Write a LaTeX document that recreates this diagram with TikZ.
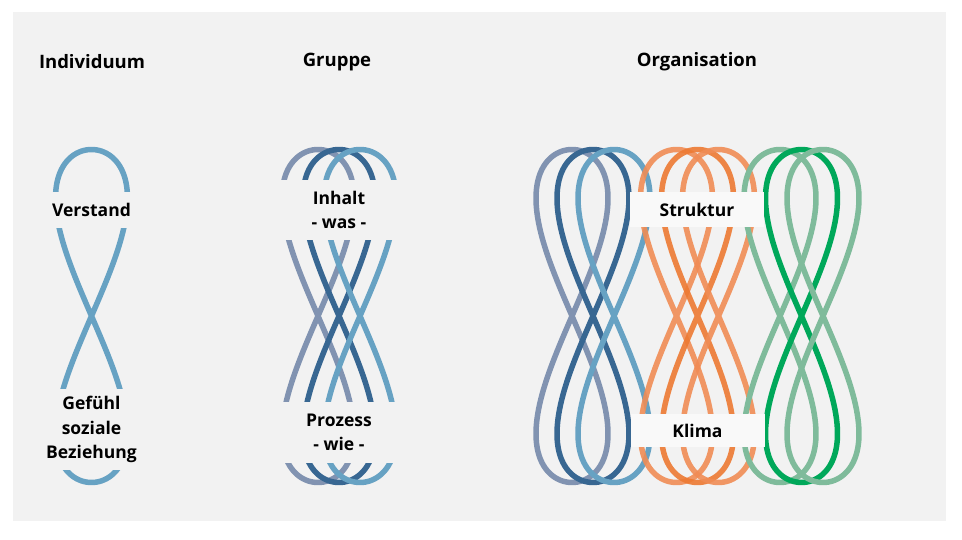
\documentclass[tikz,border=0pt]{standalone}
\usepackage{fontspec}
\setmainfont{Open Sans}
\usetikzlibrary{positioning}
\definecolor{panelgrey}{HTML}{F2F2F2}
\definecolor{tagwhite}{HTML}{F9F9F9}
\definecolor{slateblue}{HTML}{8193B1}
\definecolor{deepblue}{HTML}{386792}
\definecolor{skyblue}{HTML}{67A2C3}
\definecolor{orangelt}{HTML}{F08C55}
\definecolor{orangedk}{HTML}{ED7A33}
\definecolor{greenlt}{HTML}{7FBB9B}
\definecolor{greendk}{HTML}{00A85A}
\tikzset{
  strand/.style  = {line width=5.5pt, line join=round},
  heading/.style = {font=\bfseries\fontsize{18.5}{22}\selectfont, inner sep=0pt},
  lbl/.style     = {font=\bfseries\fontsize{17.5}{24.5}\selectfont, align=center, inner sep=0pt},
  gap/.style     = {lbl, fill=panelgrey, minimum width=140pt},
  tag/.style     = {lbl, fill=tagwhite, minimum width=134pt},
}
% one vertical figure eight (lemniscate of Gerono) around x = #1
\newcommand{\eightloop}[2]{%
  \draw[strand, #2] plot[domain=0:360, samples=181]
    ({#1 + 72*sin(\x)*cos(\x)}, {316 - 166.5*cos(\x)});}

\begin{document}
\begin{tikzpicture}[x=1pt, y=-1pt]
  \useasboundingbox (0,0) rectangle (962,540);
  \fill[panelgrey] (13,12) rectangle (946,521);
  % headings
  \node[heading] (individuum)   at (92,62)  {Individuum};
  \node[heading] (gruppe)       at (337,62) {Gruppe};
  \node[heading] (organisation) at (697,62) {Organisation};
  % individuum
  \eightloop{91.5}{skyblue}
  \node[gap, minimum width=100pt, minimum height=36pt] (verstand) at (91.5,210) {Verstand};
  \node[gap, minimum width=100pt, minimum height=81pt] (gefuehl) at (91.5,429.5) {Gef\"uhl\\soziale\\Beziehung};
  % gruppe
  \eightloop{318}{slateblue}
  \eightloop{339}{deepblue}
  \eightloop{360}{skyblue}
  \node[gap, minimum height=60pt] (inhalt)  at (339,210)   {Inhalt\\- was -};
  \node[gap, minimum height=61pt] (prozess) at (339,432.5) {Prozess\\- wie -};
  % organisation
  \eightloop{572}{slateblue}
  \eightloop{593}{deepblue}
  \eightloop{614}{skyblue}
  \eightloop{676.5}{orangelt, opacity=0.9}
  \eightloop{697.5}{orangedk, opacity=0.9}
  \eightloop{718.5}{orangelt, opacity=0.9}
  \eightloop{780}{greenlt}
  \eightloop{801.5}{greendk}
  \eightloop{823}{greenlt}
  \node[tag, minimum height=35pt] (struktur) at (697,209.5) {Struktur};
  \node[tag, minimum height=33pt] (klima)    at (697.5,430.5) {Klima};
\end{tikzpicture}
\end{document}
